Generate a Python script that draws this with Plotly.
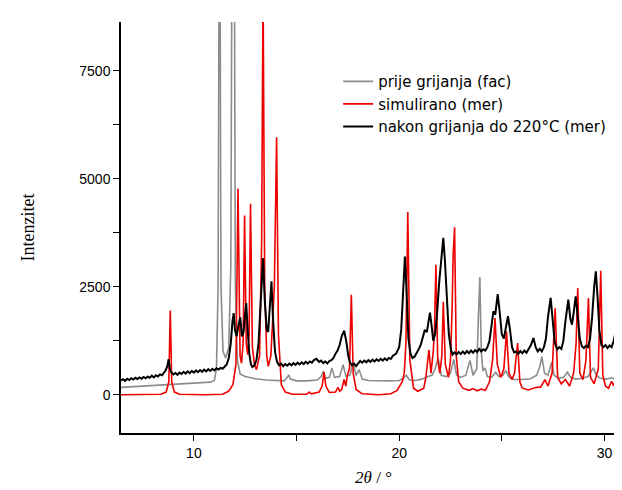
import plotly.graph_objects as go

# ---------------- data ----------------
fac_x = [6.45, 7.0, 7.5, 8.0, 8.5, 9.0, 9.5, 10.0, 10.5, 10.8, 11.0, 11.1, 11.18, 11.25, 11.32, 11.42,
         11.55, 11.7, 11.8, 11.88, 11.95, 12.02, 12.12, 12.25, 12.5, 13.0, 13.5, 14.0, 14.4, 14.55,
         14.62, 14.7, 15.0, 15.5, 16.0, 16.2, 16.3, 16.42, 16.6, 16.72, 16.85, 17.1, 17.27, 17.4,
         17.6, 17.76, 17.9, 18.05, 18.2, 18.5, 19.0, 19.5, 20.0, 20.2, 20.35, 20.5, 20.8, 21.1, 21.4,
         21.6, 21.75, 21.9, 22.05, 22.3, 22.5, 22.66, 22.8, 23.0, 23.25, 23.45, 23.6, 23.78, 23.86,
         23.93, 24.0, 24.08, 24.18, 24.3, 24.5, 24.7, 24.85, 25.05, 25.2, 25.35, 25.6, 26.0, 26.4,
         26.7, 26.85, 26.95, 27.08, 27.25, 27.43, 27.55, 27.75, 28.0, 28.2, 28.35, 28.6, 28.9, 29.2,
         29.46, 29.6, 29.8, 30.1, 30.34, 30.5, 30.7, 30.8, 30.93, 31.05]
fac_y = [170, 185, 195, 205, 215, 225, 240, 255, 270, 290, 330, 600, 2500, 14000, 2500, 1000,
         850, 1100, 3000, 14000, 14000, 2500, 800, 480, 420, 370, 340, 320, 320, 400,
         460, 360, 320, 320, 340, 420, 540, 380, 400, 620, 400, 420, 695, 430,
         450, 735, 450, 580, 360, 330, 320, 320, 330, 380, 450, 340, 330, 360, 420,
         450, 600, 850, 450, 420, 500, 815, 450, 400, 450, 795, 450, 600, 1800,
         2725, 1000, 550, 620, 420, 400, 520, 420, 450, 560, 400, 350, 350, 370,
         450, 650, 880, 500, 450, 750, 450, 380, 400, 520, 400, 360, 380, 420,
         620, 450, 380, 360, 390, 360, 440, 380, 465, 380]

sim_x = [6.45, 7.5, 8.4, 8.65, 8.78, 8.85, 8.92, 9.05, 9.3, 10.5, 11.4, 11.7, 11.9, 12.05, 12.15,
         12.25, 12.32, 12.4, 12.47, 12.55, 12.62, 12.69, 12.76, 12.85, 12.95, 13.05, 13.2, 13.3,
         13.37, 13.45, 13.55, 13.62, 13.75, 13.92, 14.03, 14.12, 14.26, 14.45, 14.8, 15.5, 15.62,
         15.72, 16.1, 16.25, 16.34, 16.43, 16.6, 16.9, 17.02, 17.1, 17.2, 17.32, 17.4, 17.48, 17.58,
         17.67, 17.76, 17.9, 18.2, 19.0, 19.6, 19.9, 20.15, 20.25, 20.33, 20.42, 20.52, 20.7, 20.9,
         21.2, 21.3, 21.45, 21.55, 21.66, 21.72, 21.79, 21.88, 21.98, 22.08, 22.15, 22.25, 22.4,
         22.5, 22.58, 22.63, 22.7, 22.78, 22.9, 23.1, 23.4, 23.6, 23.8, 24.0, 24.2, 24.4, 24.55,
         24.67, 24.78, 24.95, 25.1, 25.23, 25.35, 25.5, 25.62, 25.77, 25.88, 26.0, 26.3, 26.6, 26.9,
         27.1, 27.25, 27.45, 27.6, 27.72, 27.9, 28.1, 28.3, 28.5, 28.62, 28.7, 28.8, 28.95, 29.1,
         29.22, 29.32, 29.5, 29.7, 29.82, 29.92, 30.05, 30.2, 30.35, 30.45, 30.52, 30.62, 30.75,
         30.85, 30.95, 31.05]
sim_y = [0, 0, 10, 60, 300, 1950, 300, 60, 10, 0, 10, 80, 230, 700, 4770,
         900, 730, 1200, 4150, 1200, 925, 1400, 4420, 1100, 700, 580, 900, 3500,
         9500, 2500, 900, 655, 900, 2500, 5960, 1400, 230, 60, 10, 10, 60,
         20, 60, 200, 520, 200, 50, 60, 170, 80, 120, 350, 200, 455, 600,
         2315, 500, 120, 20, 0, 20, 100, 300, 500, 1200, 4230, 800, 150, 80,
         150, 400, 1040, 500, 1000, 1500, 3010, 800, 500, 900, 2150, 700, 400,
         800, 2000, 3240, 3875, 900, 300, 150, 100, 140, 90, 130, 100, 300, 800,
         1775, 700, 400, 600, 1465, 500, 350, 500, 1195, 300, 150, 110, 160, 180,
         350, 200, 500, 2000, 400, 250, 350, 200, 500, 1200, 2470, 500, 350, 800,
         2240, 400, 250, 600, 2870, 450, 200, 150, 310, 200, 320, 150, 250,
         290, 120, 80]

mer_x = [6.45, 6.55, 6.65, 6.75, 6.85, 6.95, 7.05, 7.15, 7.25, 7.35, 7.45, 7.55, 7.65, 7.75, 7.85,
         7.95, 8.05, 8.15, 8.25, 8.35, 8.45, 8.55, 8.62, 8.7, 8.77, 8.83, 8.9, 9.0, 9.1, 9.2, 9.3,
         9.4, 9.5, 9.6, 9.7, 9.8, 9.9, 10.0, 10.1, 10.2, 10.3, 10.4, 10.5, 10.6, 10.7, 10.8, 10.9,
         11.0, 11.1, 11.2, 11.3, 11.4, 11.5, 11.6, 11.7, 11.8, 11.88, 11.94, 12.0, 12.08, 12.15,
         12.26, 12.34, 12.42, 12.48, 12.55, 12.62, 12.7, 12.78, 12.85, 12.95, 13.05, 13.15, 13.25,
         13.32, 13.37, 13.45, 13.55, 13.62, 13.7, 13.78, 13.85, 13.95, 14.05, 14.15, 14.25, 14.35,
         14.45, 14.55, 14.65, 14.75, 14.85, 14.95, 15.05, 15.15, 15.25, 15.35, 15.45, 15.55, 15.65,
         15.75, 15.85, 15.97, 16.1, 16.2, 16.3, 16.4, 16.5, 16.6, 16.7, 16.8, 16.9, 17.0, 17.1,
         17.2, 17.32, 17.42, 17.52, 17.6, 17.7, 17.8, 17.9, 18.0, 18.1, 18.2, 18.3, 18.4, 18.5,
         18.6, 18.7, 18.8, 18.9, 19.0, 19.1, 19.2, 19.3, 19.4, 19.5, 19.6, 19.7, 19.85, 20.0, 20.1,
         20.2, 20.28, 20.36, 20.45, 20.55, 20.65, 20.75, 20.85, 20.95, 21.05, 21.15, 21.25, 21.35,
         21.45, 21.5, 21.58, 21.66, 21.75, 21.85, 21.95, 22.05, 22.15, 22.23, 22.32, 22.42, 22.52,
         22.6, 22.7, 22.8, 22.9, 23.0, 23.1, 23.2, 23.3, 23.4, 23.5, 23.6, 23.7, 23.8, 23.9, 24.0,
         24.1, 24.2, 24.3, 24.4, 24.5, 24.59, 24.68, 24.8, 24.9, 25.0, 25.1, 25.2, 25.3, 25.4, 25.5,
         25.6, 25.7, 25.8, 25.9, 26.0, 26.1, 26.2, 26.3, 26.42, 26.54, 26.65, 26.75, 26.85, 26.95,
         27.05, 27.15, 27.25, 27.38, 27.48, 27.58, 27.7, 27.8, 27.9, 28.0, 28.1, 28.24, 28.34,
         28.42, 28.5, 28.6, 28.7, 28.8, 28.9, 29.0, 29.1, 29.2, 29.3, 29.4, 29.5, 29.58, 29.66,
         29.75, 29.85, 29.95, 30.05, 30.15, 30.25, 30.35, 30.45, 30.55, 30.6, 30.68, 30.78, 30.88,
         30.98, 31.05]
mer_y = [330, 360, 320, 370, 340, 380, 350, 390, 360, 400, 370, 410, 380, 420, 390,
         440, 400, 450, 420, 470, 450, 520, 560, 650, 820, 600, 520, 470, 500, 460, 510,
         480, 530, 490, 540, 500, 550, 510, 560, 520, 570, 530, 580, 540, 590, 550, 600,
         560, 610, 580, 620, 600, 650, 700, 850, 1200, 1700, 1890, 1500, 1350, 1550,
         1790, 1350, 1450, 1800, 2120, 1500, 950, 700, 640, 680, 800, 1200, 2000,
         2700, 3160, 2200, 1500, 1450, 2000, 2625, 1800, 1000, 760, 680, 720, 660,
         710, 670, 720, 680, 730, 690, 740, 700, 750, 710, 760, 720, 770,
         740, 800, 830, 760, 790, 730, 770, 720, 780, 800, 850, 950, 1020, 1150,
         1350, 1480, 1250, 900, 750, 680, 720, 660, 710, 780, 740, 790, 750, 800,
         760, 810, 770, 820, 780, 830, 790, 840, 800, 850, 830, 900, 950, 1100, 1500,
         2400, 3200, 2400, 1300, 950, 850, 880, 950, 1050, 1150, 1350, 1500, 1450,
         1800, 1900, 1600, 1250, 1400, 1900, 2600, 3200, 3630, 3100, 2200, 1400, 1050,
         930, 980, 930, 990, 940, 1000, 950, 1010, 960, 1020, 970, 1030, 990, 1060, 1000,
         1050, 1020, 1100, 1250, 1600, 1930, 1850, 2330, 1900, 1400, 1300, 1550, 1815, 1500, 1100,
         980, 1000, 950, 1010, 960, 1020, 970, 1050, 1150, 1310, 1100, 1000, 1060, 1000,
         1100, 1300, 1800, 2240, 1700, 1200, 1050, 1100, 1060, 1250, 1700, 2200, 1750,
         1620, 1900, 2275, 1800, 1300, 1120, 1080, 1130, 1100, 1300, 1800, 2500, 2855, 2300,
         1500, 1150, 1100, 1150, 1080, 1140, 1100, 1250, 1480, 1580, 1400, 1150, 1050,
         950, 1000]

series_names = ["prije grijanja (fac)", "simulirano (mer)", "nakon grijanja do 220°C (mer)"]
x_tick_vals = [10, 15, 20, 25, 30]
x_tick_text = ["10", "", "20", "", "30"]
y_tick_vals = [0, 1250, 2500, 3750, 5000, 6250, 7500]
y_tick_text = ["0", "", "2500", "", "5000", "", "7500"]

# ---------------- figure ----------------
fig = go.Figure()
fig.add_trace(go.Scatter(x=fac_x, y=fac_y, mode="lines", name=series_names[0],
                         line=dict(color="#8c8c8c", width=1.6)))
fig.add_trace(go.Scatter(x=sim_x, y=sim_y, mode="lines", name=series_names[1],
                         line=dict(color="#ee0000", width=1.6)))
fig.add_trace(go.Scatter(x=mer_x, y=mer_y, mode="lines", name=series_names[2],
                         line=dict(color="#000000", width=2)))

fig.update_layout(
    width=622, height=490,
    margin=dict(l=113, r=4, t=14, b=65),
    paper_bgcolor="white", plot_bgcolor="white",
    font=dict(family="Liberation Sans, Arial, sans-serif", size=14, color="black"),
    showlegend=True,
    legend=dict(x=0.43, y=0.895, xanchor="left", yanchor="top",
                bgcolor="rgba(0,0,0,0)",
                font=dict(family="DejaVu Sans, Verdana, sans-serif", size=15),
                tracegroupgap=0, itemwidth=30),
)
fig.update_xaxes(
    range=[6.45, 31.05], showgrid=False, zeroline=False, automargin=False,
    showline=True, linecolor="black", linewidth=1.5,
    ticks="outside", ticklen=6, tickwidth=1.2, tickcolor="black",
    tickvals=x_tick_vals, ticktext=x_tick_text,
    title=dict(text="<i>2θ</i> / °", standoff=12,
               font=dict(family="Liberation Serif, Times New Roman, serif", size=17)),
)
fig.update_yaxes(
    range=[-887, 8627], showgrid=False, zeroline=False, automargin=False,
    showline=True, linecolor="black", linewidth=1.5,
    ticks="outside", ticklen=6, tickwidth=1.2, tickcolor="black",
    tickvals=y_tick_vals, ticktext=y_tick_text,
    title=dict(text="Intenzitet", standoff=40,
               font=dict(family="Liberation Serif, Times New Roman, serif", size=18)),
)

fig.write_html("out.html")
